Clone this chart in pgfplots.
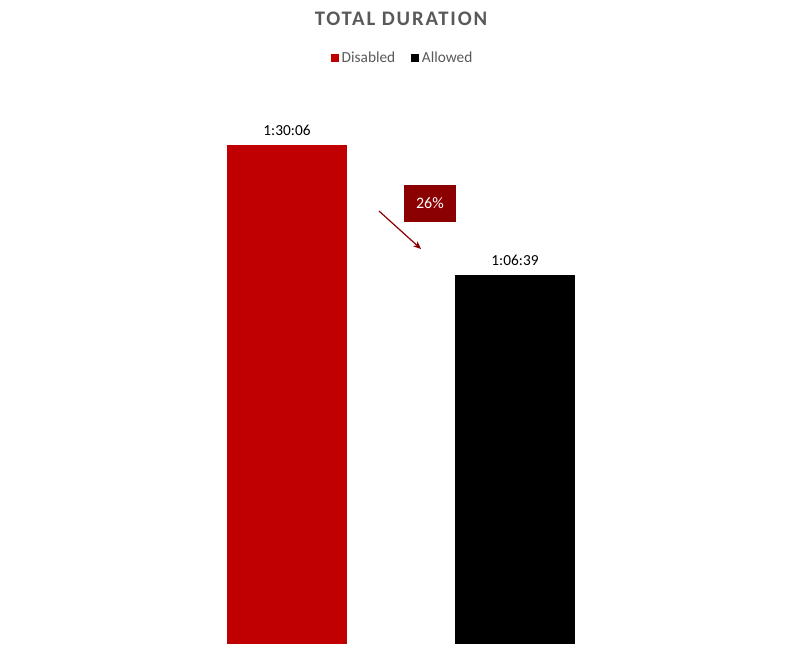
\documentclass[border=0pt]{standalone}
\usepackage{fontspec}
\setmainfont{Carlito}
\usepackage{pgfplots}
\pgfplotsset{compat=1.18}
\usetikzlibrary{arrows.meta}
\definecolor{barred}{HTML}{C00000}
\definecolor{boxred}{HTML}{8B0000}
\definecolor{txtgray}{HTML}{595959}
\begin{document}
\begin{tikzpicture}
\path[use as bounding box, fill=white] (0,0) rectangle (602.25pt,492pt);
\begin{axis}[
	at = {(44.25pt,9pt)},
	anchor = south west,
	scale only axis,
	width = 513pt,
	height = 408pt,
	hide axis,
	xmin = -1, xmax = 2,
	ymin = 0, ymax = 5894,
	ybar,
	bar width = 90pt,
	every axis plot/.append style = {bar shift = 0pt, draw = none},
	nodes near coords,
	point meta = explicit symbolic,
	nodes near coords style = {font=\fontsize{11.5}{13}\selectfont, text=black, inner sep=1pt, yshift=6pt},
	title = {\addfontfeature{LetterSpace=9}TOTAL DURATION},
	title style = {at={(0.5,1.134)}, anchor=center, font=\fontsize{15.5}{17}\selectfont\bfseries, text=txtgray},
	legend style = {at={(0.503,1.077)}, anchor=center, draw=none, fill=none,
		legend columns = 2, font=\fontsize{11.5}{13}\selectfont, text=txtgray,
		/tikz/every even column/.append style={column sep=10pt}},
	legend image code/.code = {\fill[#1] (0pt,-3pt) rectangle (6pt,3pt);},
]
\addplot[fill = barred] coordinates {(0, 5406) [1:30:06]};
\addlegendentry{Disabled}
\addplot[fill = black] coordinates {(1, 3999) [1:06:39]};
\addlegendentry{Allowed}
% change annotation
\draw[boxred, -{Stealth[length=6pt,width=5pt]}, line width=0.9pt] (axis cs:0.4035,4691) -- (axis cs:0.588,4279);
\node[fill=boxred, text=white, minimum width=39pt, minimum height=27.75pt, inner sep=0pt,
	font=\fontsize{12}{14}\selectfont] at (axis cs:0.627,4772) {26\%};
\end{axis}
\end{tikzpicture}
\end{document}
